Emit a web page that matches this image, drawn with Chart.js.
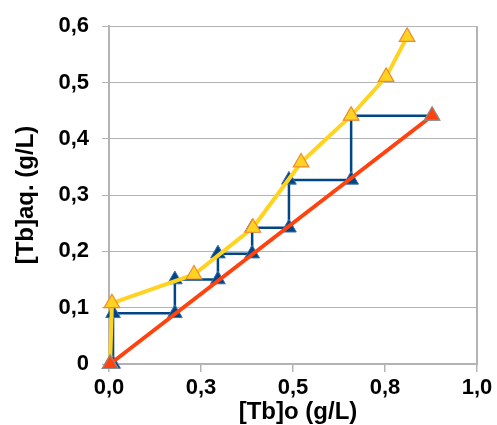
<!DOCTYPE html>
<html>
<head>
<meta charset="utf-8">
<script src="https://cdn.jsdelivr.net/npm/chart.js@4"></script>
<style>
  body { margin: 0; background: #fff; }
</style>
</head>
<body>
<canvas id="chart" width="497" height="425"></canvas>
<script>
// equilibrium curve (yellow)
const eqX = [0.003, 0.008, 0.231, 0.391, 0.522, 0.658, 0.753, 0.810];
const eqY = [0, 0.108, 0.159, 0.242, 0.358, 0.441, 0.510, 0.581];
// operating line (red)
const opX = [0.003, 0.878];
const opY = [0, 0.441];
// stages (blue staircase)
const stX = [0.011, 0.011, 0.179, 0.179, 0.296, 0.296, 0.389, 0.389, 0.489, 0.489, 0.658, 0.658, 0.878];
const stY = [0, 0.090, 0.090, 0.150, 0.150, 0.196, 0.196, 0.242, 0.242, 0.327, 0.327, 0.441, 0.441];

const xTickLabels = ['0,0', '0,3', '0,5', '0,8', '1,0'];
const yTickLabels = ['0', '0,1', '0,2', '0,3', '0,4', '0,5', '0,6'];
const xTitle = '[Tb]o (g/L)';
const yTitle = '[Tb]aq. (g/L)';

const pts = (xs, ys) => xs.map((x, i) => ({ x: x, y: ys[i] }));
const FONT = "'Liberation Sans', Arial, sans-serif";
const GRID = '#b3b3b3';

// right frame line + axis titles
const framePlugin = {
    id: 'frame',
    afterDraw(chart) {
        const c = chart.ctx;
        const a = chart.chartArea;
        c.save();
        c.strokeStyle = GRID;
        c.lineWidth = 2;
        c.beginPath();
        c.moveTo(a.right, a.top);
        c.lineTo(a.right, a.bottom + 1);
        c.stroke();

        c.fillStyle = '#000';
        c.font = 'bold 24px ' + FONT;
        c.textAlign = 'center';
        c.textBaseline = 'middle';
        c.fillText(xTitle, 298, 412);
        c.translate(26, 195);
        c.rotate(-Math.PI / 2);
        c.fillText(yTitle, 0, 0);
        c.restore();
    }
};

new Chart(document.getElementById('chart'), {
    type: 'scatter',
    data: {
        datasets: [
            {
                label: 'Operating line',
                data: pts(opX, opY),
                showLine: true,
                borderColor: '#ff420e',
                borderWidth: 4,
                pointStyle: 'triangle',
                pointRadius: 9,
                pointBackgroundColor: '#ff420e',
                pointBorderColor: '#8c8c8c',
                pointBorderWidth: 1.2,
                clip: false
            },
            {
                label: 'Equilibrium',
                data: pts(eqX, eqY),
                showLine: true,
                borderColor: '#ffd320',
                borderWidth: 4,
                pointStyle: 'triangle',
                pointRadius: 9,
                pointBackgroundColor: '#ffd320',
                pointBorderColor: '#f08a30',
                pointBorderWidth: 1.2,
                clip: false
            },
            {
                label: 'Stages',
                data: pts(stX, stY),
                showLine: true,
                borderColor: '#004586',
                borderWidth: 2.5,
                pointStyle: 'triangle',
                pointRadius: 8.5,
                pointBackgroundColor: '#004586',
                pointBorderColor: '#3a6fb0',
                pointBorderWidth: 1,
                clip: false
            }
        ]
    },
    options: {
        responsive: false,
        animation: false,
        layout: { padding: { left: 0, top: 25, right: 20, bottom: 0 } },
        plugins: {
            legend: { display: false },
            tooltip: { enabled: false }
        },
        scales: {
            x: {
                type: 'linear',
                min: 0,
                max: 1,
                afterFit: (s) => { s.height = 61; },
                afterBuildTicks: (s) => { s.ticks = xTickLabels.map((t, i) => ({ value: i * 0.25 })); },
                ticks: {
                    color: '#000',
                    font: { family: FONT, size: 22, weight: 'bold' },
                    padding: 3,
                    maxRotation: 0,
                    autoSkip: false,
                    callback: (v, i) => xTickLabels[i]
                },
                grid: {
                    drawOnChartArea: false,
                    drawTicks: true,
                    tickLength: 8,
                    color: GRID,
                    lineWidth: 1.5
                },
                border: { display: true, color: GRID, width: 2 }
            },
            y: {
                type: 'linear',
                min: 0,
                max: 0.6,
                afterFit: (s) => { s.width = 109; },
                afterBuildTicks: (s) => { s.ticks = yTickLabels.map((t, i) => ({ value: i * 0.1 })); },
                ticks: {
                    color: '#000',
                    font: { family: FONT, size: 22, weight: 'bold' },
                    padding: 13,
                    autoSkip: false,
                    callback: (v, i) => yTickLabels[i]
                },
                grid: {
                    drawTicks: true,
                    tickLength: 7,
                    color: GRID,
                    lineWidth: 1
                },
                border: { display: true, color: GRID, width: 2 }
            }
        }
    },
    plugins: [framePlugin]
});
</script>
</body>
</html>
